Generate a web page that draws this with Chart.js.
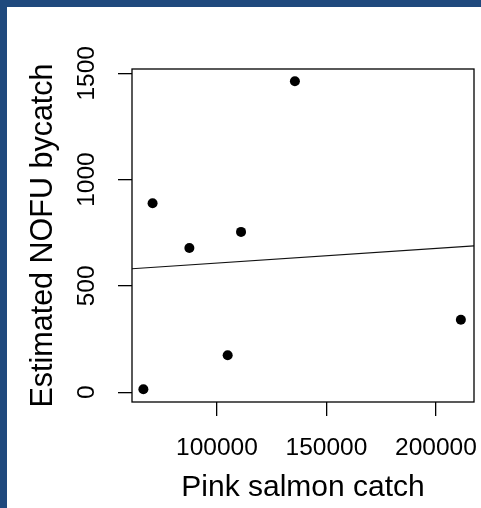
<!DOCTYPE html>
<html>
<head>
<meta charset="utf-8">
<script src="https://cdn.jsdelivr.net/npm/chart.js@4.4.1/dist/chart.umd.min.js"></script>
<style>
  html, body { margin: 0; padding: 0; background: #1f497d; }
  #frame { position: absolute; left: 7px; top: 7px; width: 474px; height: 501px; background: #fff; }
  canvas { display: block; }
</style>
</head>
<body>
<div id="frame"><canvas id="chart" width="474" height="501"></canvas></div>
<script>
// pink salmon catch vs estimated NOFU bycatch
const pinkCatch = [66400, 70600, 87400, 104900, 111000, 135600, 211400];
const nofuBycatch = [14, 889, 678, 174, 754, 1462, 341];
const xTicks = [100000, 150000, 200000];
const yTicks = [0, 500, 1000, 1500];
const xLimits = [61200, 217400];
const yLimits = [-46, 1520];

// least squares fit, like abline(lm(y ~ x))
const n = pinkCatch.length;
const mx = pinkCatch.reduce((a, b) => a + b, 0) / n;
const my = nofuBycatch.reduce((a, b) => a + b, 0) / n;
let sxy = 0, sxx = 0;
pinkCatch.forEach((x, i) => { sxy += (x - mx) * (nofuBycatch[i] - my); sxx += (x - mx) ** 2; });
const slope = sxy / sxx;
const intercept = my - slope * mx;
const fitLine = xLimits.map(x => ({ x, y: intercept + slope * x }));

const FONT = "Liberation Sans, Arial, sans-serif";
const TICK_LEN = 14;

// R-style box around the plot region
const boxPlugin = {
  id: "box",
  afterDatasetsDraw(chart) {
    const { ctx, chartArea: a } = chart;
    ctx.save();
    ctx.strokeStyle = "#000";
    ctx.lineWidth = 1.3;
    ctx.strokeRect(a.left, a.top, a.right - a.left, a.bottom - a.top);
    ctx.restore();
  }
};

// rotated y tick labels (R's las=0)
const yLabelPlugin = {
  id: "yLabels",
  afterDraw(chart) {
    const { ctx, scales: { y } } = chart;
    ctx.save();
    ctx.font = `24.5px ${FONT}`;
    ctx.fillStyle = "#000";
    ctx.textAlign = "center";
    ctx.textBaseline = "alphabetic";
    y.ticks.forEach(t => {
      ctx.save();
      ctx.translate(y.right - TICK_LEN - 24, y.getPixelForValue(t.value));
      ctx.rotate(-Math.PI / 2);
      ctx.fillText(String(t.value), 0, 0);
      ctx.restore();
    });
    ctx.restore();
  }
};

new Chart(document.getElementById("chart"), {
  type: "scatter",
  data: {
    datasets: [
      {
        label: "bycatch",
        data: pinkCatch.map((x, i) => ({ x, y: nofuBycatch[i] })),
        backgroundColor: "#000", borderWidth: 0, pointRadius: 5, pointHoverRadius: 5,
      },
      {
        type: "line", label: "fit", data: fitLine,
        borderColor: "#111", borderWidth: 1.2, pointRadius: 0, fill: false,
      },
    ],
  },
  options: {
    responsive: false, animation: false, devicePixelRatio: 1,
    layout: { padding: { top: 62, right: 7, left: 0, bottom: 0 } },
    plugins: { legend: { display: false }, tooltip: { enabled: false } },
    scales: {
      x: {
        type: "linear", min: xLimits[0], max: xLimits[1],
        afterBuildTicks: s => { s.ticks = xTicks.map(v => ({ value: v })); },
        afterFit: s => { s.height = 106; s.paddingLeft = 0; s.paddingRight = 0; },
        border: { display: false },
        grid: { drawOnChartArea: false, drawTicks: true, tickLength: TICK_LEN, color: "#000", lineWidth: 1.3 },
        ticks: { color: "#000", font: { family: FONT, size: 24.5 }, padding: 17.5, maxRotation: 0, autoSkip: false, callback: v => String(v) },
        title: { display: true, text: "Pink salmon catch", color: "#000", font: { family: FONT, size: 30 }, padding: { top: 0, bottom: 2 } },
      },
      y: {
        type: "linear", min: yLimits[0], max: yLimits[1],
        afterBuildTicks: s => { s.ticks = yTicks.map(v => ({ value: v })); },
        afterFit: s => { s.width = 125; s.paddingTop = 0; s.paddingBottom = 0; },
        border: { display: false },
        grid: { drawOnChartArea: false, drawTicks: true, tickLength: TICK_LEN, color: "#000", lineWidth: 1.3 },
        ticks: { display: false },
        title: { display: true, text: "Estimated NOFU bycatch", color: "#000", font: { family: FONT, size: 30.5 }, padding: { top: 18, bottom: 0 } },
      },
    },
  },
  plugins: [boxPlugin, yLabelPlugin],
});
</script>
</body>
</html>
